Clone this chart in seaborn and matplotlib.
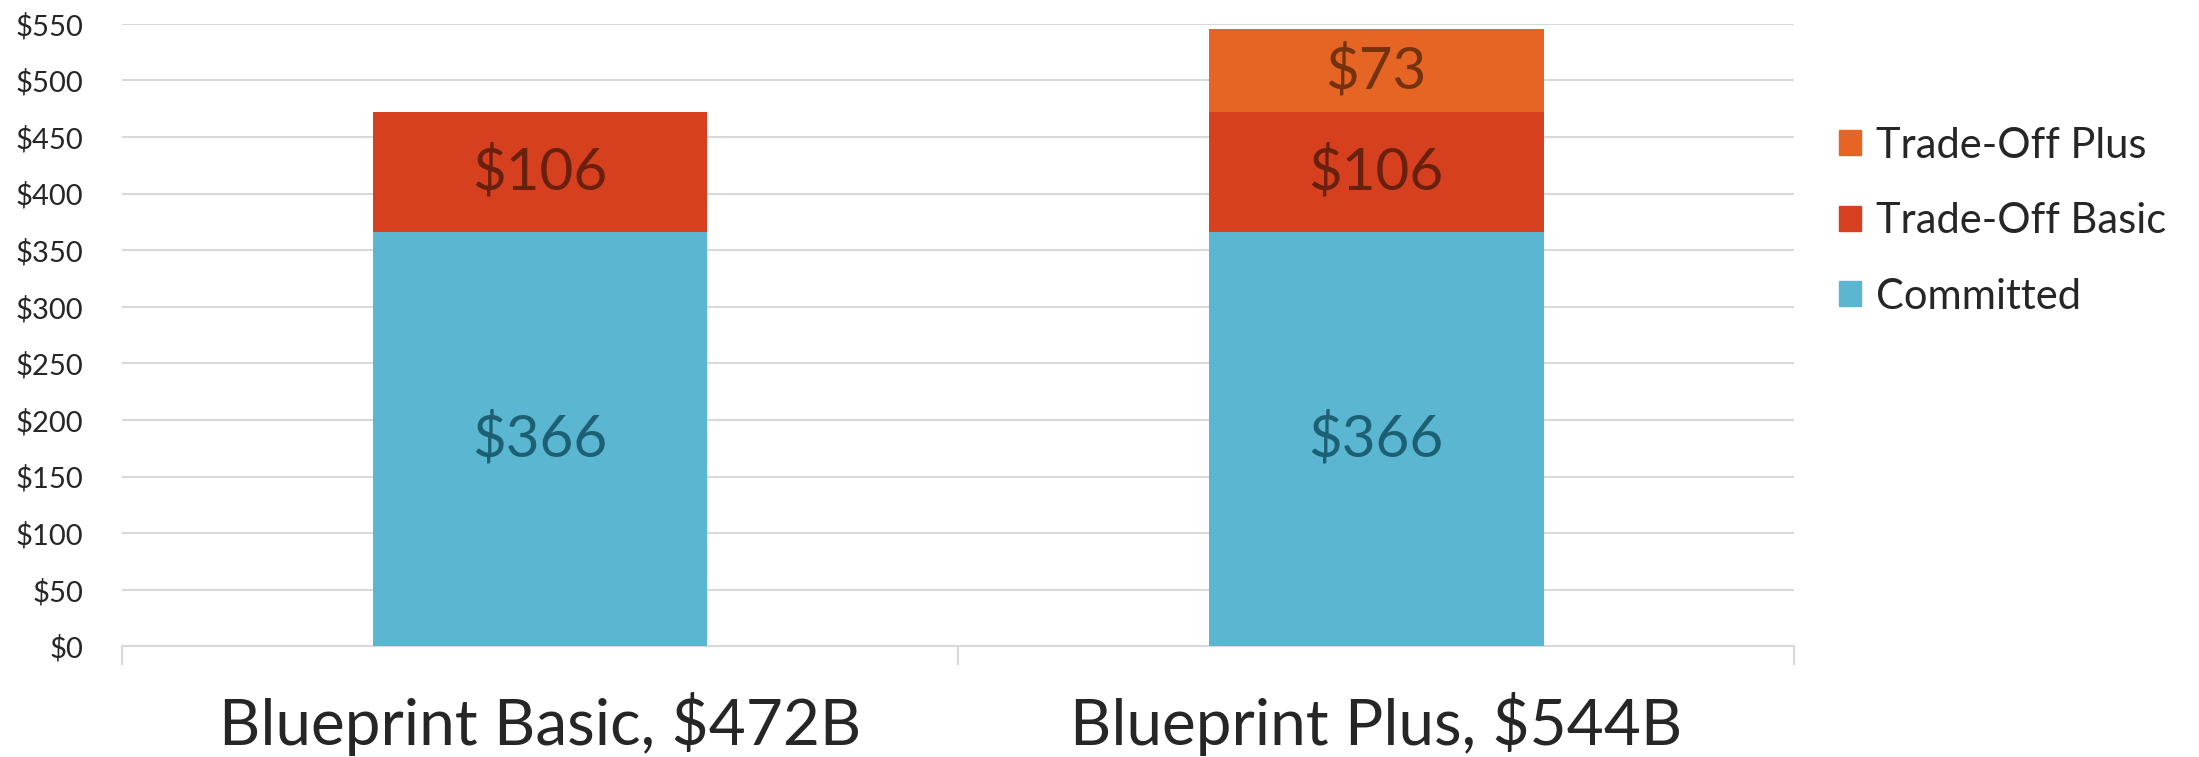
import matplotlib
matplotlib.use("Agg")
import matplotlib.pyplot as plt
import seaborn as sns
import numpy as np
import pandas as pd

categories = ["Blueprint Basic, $472B", "Blueprint Plus, $544B"]
committed = [366, 366]
tradeoff_basic = [106, 106]
tradeoff_plus = [0, 73]
series_names = ["Committed", "Trade-Off Basic", "Trade-Off Plus"]
y_ticks = list(range(0, 551, 50))

bar_colors = ["#5bb7d1", "#d6401f", "#e66525"]
label_colors = ["#1d5f73", "#6a200f", "#74320f"]

sns.set_theme(style="white")
plt.rcParams["font.family"] = ["Lato", "DejaVu Sans"]

fig, ax = plt.subplots(figsize=(21.99, 7.57), dpi=100)
fig.subplots_adjust(left=0.0555, right=0.816, bottom=0.146, top=0.9686)

df = pd.DataFrame({
    "category": categories,
    "Committed": committed,
    "Trade-Off Basic": tradeoff_basic,
    "Trade-Off Plus": tradeoff_plus,
})

bottom = np.zeros(len(categories))
handles = []
for name, color, lcolor in zip(series_names, bar_colors, label_colors):
    vals = df[name].to_numpy(dtype=float)
    sns.barplot(data=df, x="category", y=name, bottom=bottom, color=color,
                width=0.4, errorbar=None, ax=ax, linewidth=0, saturation=1, zorder=3)
    cont = ax.containers[-1]
    labels = [f"${v:.0f}" if v > 0 else "" for v in vals]
    ax.bar_label(cont, labels=labels, label_type="center", fontsize=42, color=lcolor)
    handles.append(plt.Rectangle((0, 0), 1, 1, color=color))
    bottom = bottom + vals

ax.set_ylim(0, 550)
ax.set_xlim(-0.5, 1.5)
ax.set_yticks(y_ticks)
ax.set_yticklabels([f"${t}" for t in y_ticks], fontsize=21)
ax.yaxis.grid(True, color="#d9d9d9", linewidth=1.5, zorder=0)
ax.set_axisbelow(True)
ax.set_xlabel("")
ax.set_ylabel("")
ax.tick_params(axis="y", length=0, pad=28)
ax.tick_params(axis="x", which="major", length=0, pad=33, labelsize=46)
ax.set_xticks([-0.5, 0.5, 1.5], minor=True)
ax.tick_params(axis="x", which="minor", bottom=True, length=14, width=1.5,
               color="#d9d9d9", direction="out")

for s in ["top", "right", "left"]:
    ax.spines[s].set_visible(False)
ax.spines["bottom"].set_color("#d9d9d9")
ax.spines["bottom"].set_linewidth(1.5)

ax.legend(handles[::-1], series_names[::-1], loc="upper left", bbox_to_anchor=(1.004, 0.895),
          frameon=False, fontsize=30, handlelength=0.55, handleheight=0.55,
          handletextpad=0.35, labelspacing=0.9)

fig.savefig("out.png", dpi=100)
